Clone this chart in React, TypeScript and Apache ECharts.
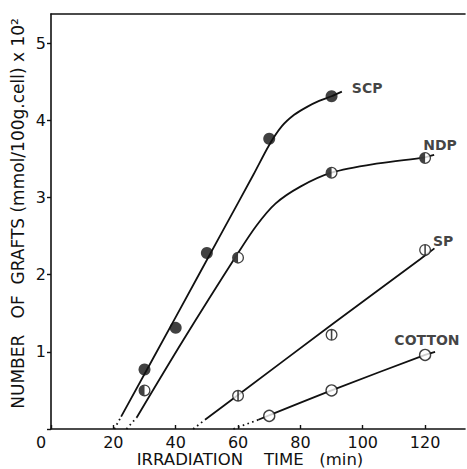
import React, { useEffect, useRef } from "react";
import * as echarts from "echarts";

// ---- data ----
const xTicks = [0, 20, 40, 60, 80, 100, 120];
const yTicks = [1, 2, 3, 4, 5];

// measured points
const scpX = [30, 40, 50, 70, 90];
const scpY = [0.77, 1.31, 2.28, 3.76, 4.31];
const ndpX = [30, 60, 90, 120];
const ndpY = [0.5, 2.22, 3.32, 3.51];
const spX = [60, 90, 120];
const spY = [0.43, 1.22, 2.32];
const cottonX = [70, 90, 120];
const cottonY = [0.17, 0.5, 0.96];

// drawn (fitted) curves, solid part
const scpCurveX = [22.5, 40, 55, 65, 70, 74, 78, 82, 86, 90, 93.3];
const scpCurveY = [0.16, 1.45, 2.56, 3.3, 3.68, 3.92, 4.07, 4.17, 4.25, 4.31, 4.37];
const ndpCurveX = [27.5, 42.4, 60, 66, 72, 80, 90, 105, 120, 122.9];
const ndpCurveY = [0.15, 1.15, 2.28, 2.64, 2.92, 3.14, 3.32, 3.44, 3.52, 3.55];
const spCurveX = [49.4, 60, 90, 118.4, 123];
const spCurveY = [0.12, 0.44, 1.35, 2.2, 2.34];
const cottonCurveX = [66.5, 90, 120, 123.2];
const cottonCurveY = [0.12, 0.5, 0.96, 1.0];

// dotted extrapolations to the time axis
const scpDotX = [20.3, 22.5];
const scpDotY = [0, 0.16];
const ndpDotX = [24.2, 27.5];
const ndpDotY = [0, 0.15];
const spDotX = [45.6, 49.4];
const spDotY = [0, 0.12];
const cottonDotX = [58.5, 66.5];
const cottonDotY = [0, 0.12];

// curve name labels (data coordinates)
const labelNames = ["SCP", "NDP", "SP", "COTTON"];
const labelX = [101.4, 124.8, 125.8, 120.6];
const labelY = [4.42, 3.68, 2.44, 1.15];

const X_MAX = 132.8;
const Y_MAX = 5.376;

const zip = (xs: number[], ys: number[]) => xs.map((x, i) => [x, ys[i]]);

const INK = "#111";
const FONT = "DejaVu Sans";
const NB = "\u00a0";

const RING =
  "M0,-10A10,10,0,1,1,0,10A10,10,0,1,1,0,-10Z M0,-7.8A7.8,7.8,0,1,0,0,7.8A7.8,7.8,0,1,0,0,-7.8Z";
const HALF = RING + " M0,-7.8A7.8,7.8,0,0,0,0,7.8Z";
const BAR = RING + " M-1.3,-7.8L1.3,-7.8L1.3,7.8L-1.3,7.8Z";

export default function App() {
  const ref = useRef<HTMLDivElement>(null);
  useEffect(() => {
    if (!ref.current) return;
    const chart = echarts.init(ref.current, null, { renderer: "svg" });
    const solid = (xs: number[], ys: number[]) => ({
      type: "line",
      data: zip(xs, ys),
      smooth: 0.3,
      symbol: "none",
      lineStyle: { color: INK, width: 1.8 },
      z: 2,
    });
    const dotted = (xs: number[], ys: number[]) => ({
      type: "line",
      data: zip(xs, ys),
      symbol: "none",
      lineStyle: { color: INK, width: 1.8, type: [1.6, 3.4] },
      z: 2,
    });
    const under = (xs: number[], ys: number[]) => ({
      type: "scatter",
      data: zip(xs, ys),
      symbol: "circle",
      symbolSize: 11,
      itemStyle: { color: "#fff" },
      z: 3,
    });
    const over = (xs: number[], ys: number[], path: string) => ({
      type: "scatter",
      data: zip(xs, ys),
      symbol: "path://" + path,
      symbolSize: 12,
      itemStyle: { color: INK },
      z: 4,
    });
    chart.setOption({
      animation: false,
      grid: { left: 51, right: 2, top: 14, bottom: 40, outerBoundsMode: "none", containLabel: false },
      xAxis: [
        {
          type: "value",
          min: 0,
          max: X_MAX,
          interval: 20,
          name: "IRRADIATION" + NB.repeat(4) + "TIME" + NB.repeat(3) + "(min)",
          nameLocation: "middle",
          nameGap: 22,
          nameMoveOverlap: false,
          nameTextStyle: { color: INK, fontSize: 16.5, fontFamily: FONT, padding: [0, 16, 0, 0] },
          axisLine: { lineStyle: { color: INK, width: 1.6 } },
          axisTick: { inside: true, length: 4, lineStyle: { color: INK, width: 1.4 } },
          splitLine: { show: false },
          axisLabel: {
            color: INK,
            fontSize: 16,
            fontFamily: FONT,
            margin: 5,
            showMaxLabel: false,
            formatter: (v: number) => (xTicks.includes(v) ? (v === 0 ? "{z|0}" : String(v)) : ""),
            rich: { z: { fontSize: 16, fontFamily: FONT, color: INK, padding: [0, 20, 0, 0] } },
          },
        },
        {
          type: "value",
          position: "top",
          min: 0,
          max: X_MAX,
          axisLine: { show: true, lineStyle: { color: INK, width: 1.6 } },
          axisTick: { show: false },
          axisLabel: { show: false },
          splitLine: { show: false },
        },
      ],
      yAxis: {
        type: "value",
        min: 0,
        max: Y_MAX,
        interval: 1,
        name:
          NB.repeat(3) +
          "NUMBER" + NB.repeat(3) + "OF" + NB.repeat(2) + "GRAFTS" + NB + "(mmol/100g.cell)" + NB + "x" + NB + "10²",
        nameLocation: "middle",
        nameGap: 25,
        nameMoveOverlap: false,
        nameTextStyle: { color: INK, fontSize: 17, fontFamily: FONT },
        axisLine: { show: true, lineStyle: { color: INK, width: 1.6 } },
        axisTick: { show: true, inside: false, length: 4, lineStyle: { color: INK, width: 1.4 } },
        splitLine: { show: false },
        axisLabel: {
          color: INK,
          fontSize: 16,
          fontFamily: FONT,
          margin: 5,
          showMaxLabel: false,
          formatter: (v: number) => (yTicks.includes(v) ? String(v) : ""),
        },
      },
      series: [
        dotted(scpDotX, scpDotY),
        dotted(ndpDotX, ndpDotY),
        dotted(spDotX, spDotY),
        dotted(cottonDotX, cottonDotY),
        solid(scpCurveX, scpCurveY),
        solid(ndpCurveX, ndpCurveY),
        solid(spCurveX, spCurveY),
        solid(cottonCurveX, cottonCurveY),
        {
          type: "scatter",
          data: zip(scpX, scpY),
          symbol: "circle",
          symbolSize: 12,
          itemStyle: { color: INK },
          z: 4,
        },
        under(ndpX, ndpY),
        over(ndpX, ndpY, HALF),
        under(spX, spY),
        over(spX, spY, BAR),
        {
          type: "scatter",
          data: zip(cottonX, cottonY),
          symbol: "circle",
          symbolSize: 11,
          itemStyle: { color: "#fff", borderColor: INK, borderWidth: 1.4 },
          z: 4,
        },
        {
          type: "scatter",
          symbolSize: 0,
          data: labelNames.map((n, i) => ({ name: n, value: [labelX[i], labelY[i]] })),
          label: {
            show: true,
            position: "inside",
            formatter: (p: any) => p.name,
            color: INK,
            fontSize: 14,
            fontWeight: "bold",
            fontFamily: FONT,
          },
          z: 5,
        },
      ],
    });
    return () => chart.dispose();
  }, []);
  return (
    <div
      ref={ref}
      style={{ position: "fixed", left: 0, top: 0, width: 467, height: 469, background: "#fff" }}
    />
  );
}
